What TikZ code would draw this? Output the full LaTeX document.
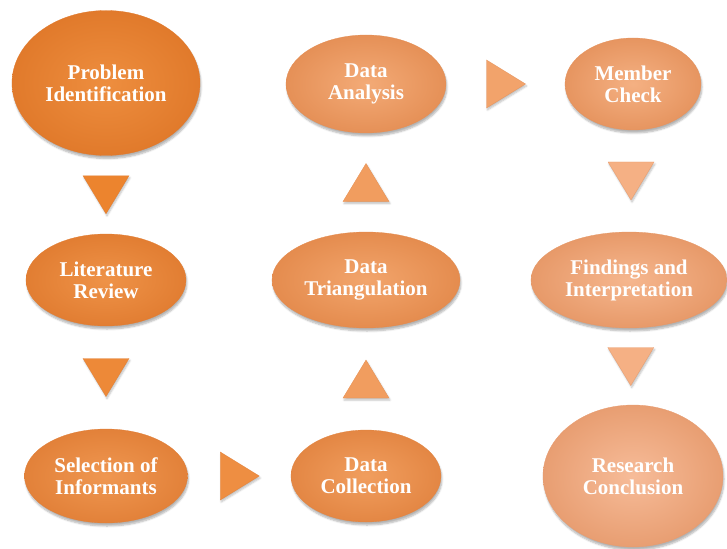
\documentclass[tikz,border=0pt]{standalone}
\usepackage{fontspec}
\setmainfont{Liberation Serif}
\usetikzlibrary{shapes.geometric,shadows.blur}

% colours from dark orange to light peach
\definecolor{first}{RGB}{236,132,46}
\definecolor{last}{RGB}{246,182,144}
\definecolor{rim}{RGB}{196,96,36}
\colorlet{s1}{first}
\colorlet{s2}{last!10!first}
\colorlet{s3}{last!20!first}
\colorlet{s4}{last!35!first}
\colorlet{s5}{last!50!first}
\colorlet{s6}{last!62!first}
\colorlet{s7}{last!75!first}
\colorlet{s8}{last!88!first}
\colorlet{s9}{last}

\tikzset{
  stage/.style={ellipse, inner sep=0pt, align=center, text=white,
    font=\fontsize{21}{22}\selectfont\bfseries,
    draw=#1!70!rim, line width=0.3pt,
    inner color=#1!92!white, outer color=#1!72!rim,
    blur shadow={shadow xshift=1pt, shadow yshift=-3pt, shadow blur steps=6, shadow opacity=30}},
  tri/.style={fill=#1, draw=#1!75!rim, line width=0.3pt,
    blur shadow={shadow xshift=1pt, shadow yshift=-2pt, shadow blur steps=5, shadow opacity=25}}
}

\begin{document}
\begin{tikzpicture}[x=1pt, y=-1pt]
    \useasboundingbox (0,0) rectangle (727,548);

    % first column
    \node[stage=s1, minimum width=188pt, minimum height=145pt] (prob) at (106,83) {Problem\\Identification};
    \node[stage=s2, minimum width=160pt, minimum height=92pt] (lit) at (106,280) {Literature\\Review};
    \node[stage=s3, minimum width=163pt, minimum height=94pt] (sel) at (106,476) {Selection of\\Informants};

    % second column
    \node[stage=s4, minimum width=150pt, minimum height=92pt] (coll) at (366,476) {Data\\Collection};
    \node[stage=s5, minimum width=188pt, minimum height=96pt] (tri) at (366,280) {Data\\Triangulation};
    \node[stage=s6, minimum width=160pt, minimum height=98pt] (ana) at (366,84) {Data\\Analysis};

    % third column
    \node[stage=s7, minimum width=136pt, minimum height=92pt] (mem) at (633,84) {Member\\Check};
    \node[stage=s8, minimum width=196pt, minimum height=96pt] (find) at (629,280) {Findings and\\Interpretation};
    \node[stage=s9, minimum width=180pt, minimum height=142pt] (conc) at (633,476) {Research\\Conclusion};

    % points halfway between the stages
    \path (prob) -- (lit) coordinate[midway] (a1);
    \path (lit) -- (sel) coordinate[midway] (a2);
    \path (sel) -- (coll) coordinate[midway] (a3);
    \path (coll) -- (tri) coordinate[midway] (a4);
    \path (tri) -- (ana) coordinate[midway] (a5);
    \path (ana) -- (mem) coordinate[midway] (a6);
    \path (mem) -- (find) coordinate[midway] (a7);
    \path (find) -- (conc) coordinate[midway] (a8);

    % triangle arrows
    \filldraw[tri=s1, shift={(a1)}] (-23,-19) -- (23,-19) -- (0,19) -- cycle;
    \filldraw[tri=s2, shift={(a2)}] (-23,-19) -- (23,-19) -- (0,19) -- cycle;
    \filldraw[tri=s3, shift={(a3)}] (-19,-24) -- (20,0) -- (-19,24) -- cycle;
    \filldraw[tri=s5, shift={(a4)}] (-23,19) -- (23,19) -- (0,-19) -- cycle;
    \filldraw[tri=s5, shift={(a5)}] (-23,19) -- (23,19) -- (0,-19) -- cycle;
    \filldraw[tri=s6, shift={(a6)}] (-19,-24) -- (20,0) -- (-19,24) -- cycle;
    \filldraw[tri=s8, shift={(a7)}] (-23,-19) -- (23,-19) -- (0,19) -- cycle;
    \filldraw[tri=s8, shift={(a8)}] (-23,-19) -- (23,-19) -- (0,19) -- cycle;

\end{tikzpicture}
\end{document}
